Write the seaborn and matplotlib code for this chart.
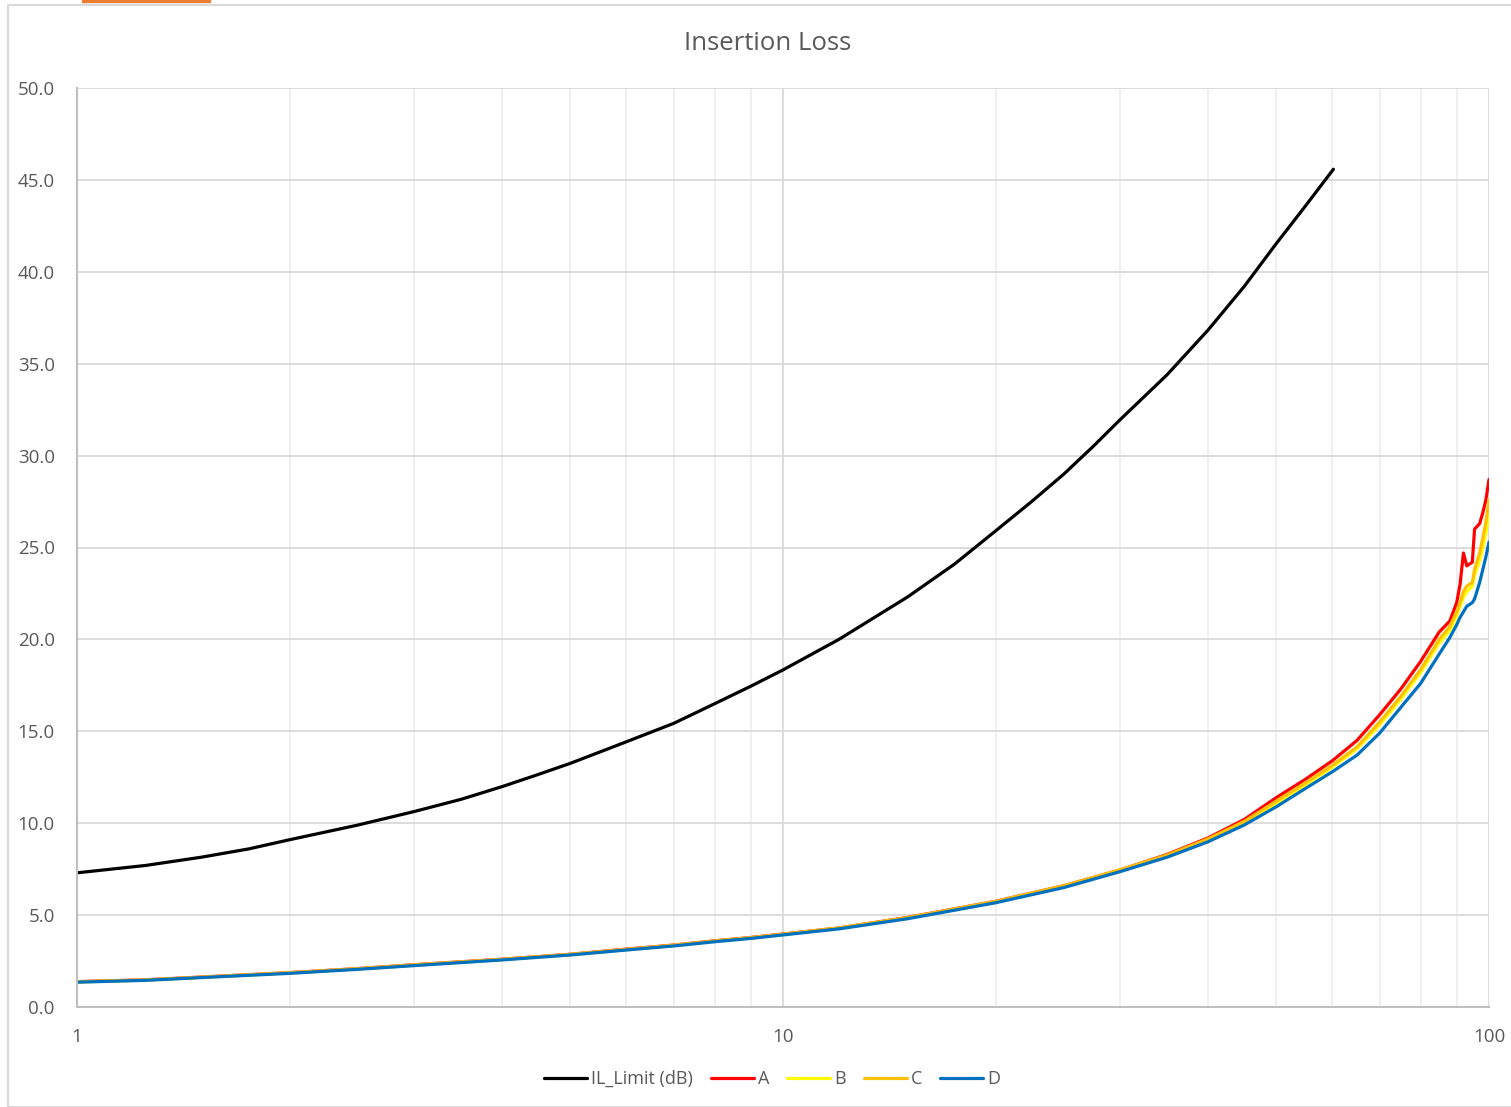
import numpy as np
import pandas as pd
import matplotlib
matplotlib.use("Agg")
import matplotlib.pyplot as plt
import matplotlib.patches as mpatches
from matplotlib.ticker import FixedLocator, NullFormatter, FuncFormatter
import seaborn as sns

# IL limit curve (dB)
limit_freq = [1, 1.25, 1.5, 1.75, 2, 2.5, 3, 3.5, 4, 4.5, 5, 6, 7, 8, 9, 10, 12, 15, 17.5,
              20, 22.5, 25, 27.5, 30, 35, 40, 45, 50, 55, 60.2]
limit_db = [7.3, 7.7, 8.15, 8.6, 9.1, 9.9, 10.63, 11.3, 11.99, 12.65, 13.26, 14.43, 15.43,
            16.5, 17.45, 18.34, 20.0, 22.3, 24.1, 25.9, 27.5, 29.0, 30.5, 31.94, 34.4, 36.83,
            39.2, 41.55, 43.6, 45.58]

# measured channels A-D
meas_freq = [1, 1.25, 1.5, 2, 2.5, 3, 4, 5, 6, 7, 8, 9, 10, 12, 15, 20, 25, 30, 35, 40,
             45, 50, 55, 60, 65, 70, 75, 80, 85, 88, 90, 91, 92, 93, 94.7, 95.4, 97, 98, 99, 100]
a_db = [1.38, 1.48, 1.63, 1.87, 2.09, 2.3, 2.6, 2.87, 3.15, 3.37, 3.6, 3.78, 3.97, 4.3, 4.87,
        5.75, 6.6, 7.45, 8.3, 9.2, 10.2, 11.4, 12.4, 13.4, 14.5, 15.9, 17.3, 18.8, 20.4, 21.0,
        22.0, 23.0, 24.7, 24.0, 24.2, 26.0, 26.3, 26.9, 27.6, 28.7]
b_db = [1.36, 1.46, 1.61, 1.85, 2.07, 2.27, 2.58, 2.85, 3.12, 3.34, 3.57, 3.75, 3.94, 4.28, 4.84,
        5.72, 6.56, 7.42, 8.22, 9.1, 10.05, 11.1, 12.1, 13.05, 14.05, 15.35, 16.75, 18.2, 19.8,
        20.5, 21.3, 21.8, 22.3, 22.6, 22.9, 23.5, 24.3, 25.0, 25.8, 26.8]
c_db = [1.37, 1.47, 1.62, 1.86, 2.08, 2.29, 2.59, 2.86, 3.13, 3.36, 3.59, 3.77, 3.96, 4.3, 4.86,
        5.74, 6.6, 7.46, 8.27, 9.15, 10.1, 11.2, 12.2, 13.15, 14.15, 15.5, 16.9, 18.35, 20.0,
        20.7, 21.5, 22.0, 22.6, 22.9, 23.1, 23.8, 24.7, 25.5, 26.4, 27.6]
d_db = [1.35, 1.45, 1.6, 1.83, 2.05, 2.25, 2.56, 2.83, 3.1, 3.32, 3.55, 3.73, 3.92, 4.25, 4.8,
        5.67, 6.5, 7.36, 8.15, 8.99, 9.9, 10.9, 11.9, 12.8, 13.7, 14.9, 16.3, 17.6, 19.2, 20.1,
        20.8, 21.2, 21.5, 21.8, 22.0, 22.2, 23.1, 23.8, 24.5, 25.3]

series = [("IL_Limit (dB)", limit_freq, limit_db, "#000000"),
          ("A", meas_freq, a_db, "#FF0000"),
          ("B", meas_freq, b_db, "#FFFF00"),
          ("C", meas_freq, c_db, "#FFC000"),
          ("D", meas_freq, d_db, "#0070C0")]

sns.set_style("white")
plt.rcParams['font.family'] = ['Open Sans', 'DejaVu Sans']
txt = "#595959"

fig = plt.figure(figsize=(15.11, 11.07), dpi=100)
ax = fig.add_axes([77/1511, 100/1107, 1412/1511, 919/1107])

for name, fx, fy, col in series:
    sns.lineplot(x=fx, y=fy, ax=ax, color=col, linewidth=2.3, label=name,
                 estimator=None, sort=False)

ax.set_xscale("log")
ax.set_xlim(1, 100)
ax.set_ylim(0, 50)
ax.set_yticks(np.arange(0, 50.1, 5))
ax.yaxis.set_major_formatter(FuncFormatter(lambda v, p: f"{v:.1f}"))
ax.xaxis.set_major_locator(FixedLocator([1, 10, 100]))
ax.xaxis.set_major_formatter(FuncFormatter(lambda v, p: f"{v:g}"))
ax.xaxis.set_minor_locator(FixedLocator([k * 10 ** e for e in (0, 1) for k in range(2, 10)]))
ax.xaxis.set_minor_formatter(NullFormatter())

ax.grid(which="major", axis="y", color="#d9d9d9", linewidth=1.3)
ax.grid(which="major", axis="x", color="#d9d9d9", linewidth=1.3)
ax.grid(which="minor", axis="x", color="#efefef", linewidth=1.3)
ax.set_axisbelow(True)
ax.tick_params(axis="both", which="both", length=0, labelsize=13.5, labelcolor=txt)
ax.tick_params(axis="x", pad=15)
ax.tick_params(axis="y", pad=16)
for s in ("top", "right"):
    ax.spines[s].set_visible(False)
for s in ("left", "bottom"):
    ax.spines[s].set_color("#bfbfbf")
    ax.spines[s].set_linewidth(1.5)
ax.set_xlabel("")
ax.set_ylabel("")

fig.text(768/1511, 1 - 44/1107, "Insertion Loss", ha="center", va="center",
         fontsize=18.5, color=txt)

handles, labels = ax.get_legend_handles_labels()
ax.legend(handles, labels, loc="center", bbox_to_anchor=(772/1511, 1 - 1079/1107),
          bbox_transform=fig.transFigure, ncol=5, frameon=False, fontsize=13,
          labelcolor=txt, handlelength=2.4, handletextpad=0.2, columnspacing=1.0)

# chart-area border and the orange strip at the top edge
fig.patches.append(mpatches.Rectangle((8/1511, 0), 1.0, 1 - 5/1107, transform=fig.transFigure,
                                      fill=False, edgecolor="#d9d9d9", linewidth=1.5))
fig.patches.append(mpatches.Rectangle((82/1511, 1 - 2/1107), 128/1511, 2/1107,
                                      transform=fig.transFigure, color="#ED7D31"))

fig.savefig("out.png", dpi=100, facecolor="white")
